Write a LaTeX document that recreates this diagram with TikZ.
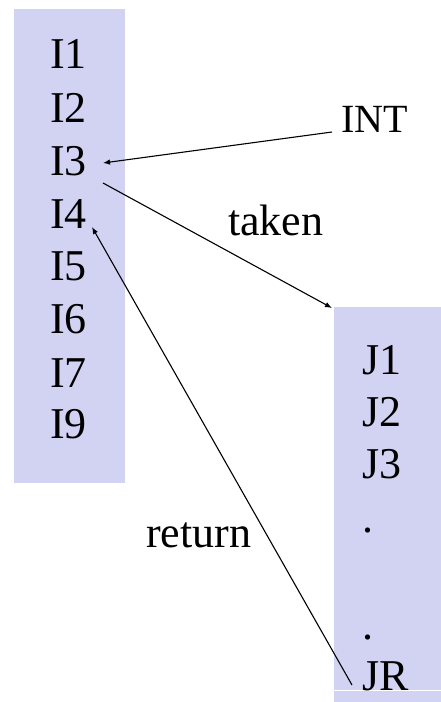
\documentclass[tikz,border=0pt]{standalone}
\usepackage{fontspec}
\setmainfont{Liberation Serif}
\usetikzlibrary{arrows.meta}
\definecolor{boxfill}{RGB}{210,210,242}
\begin{document}
\begin{tikzpicture}[x=1pt,y=-1pt,
  lbl/.style={anchor=base west,inner sep=0pt,font=\fontsize{44}{53}\selectfont},
  col/.style={fill=boxfill,draw=none},
  conn/.style={line width=1.1pt,-{Latex[length=7pt,width=5.5pt]}}]
\useasboundingbox (0,0) rectangle (441,702);
% boxes
\path[col] (14,9) rectangle (125,483);
\path[col] (334,307) rectangle (441,702);
\draw[white,line width=1pt] (334,690) -- (441,690);
% left column
\node[lbl] (i1) at (50,68) {I1};
\node[lbl] (i2) at (50,122) {I2};
\node[lbl] (i3) at (50,175) {I3};
\node[lbl] (i4) at (50,228) {I4};
\node[lbl] (i5) at (50,280) {I5};
\node[lbl] (i6) at (50,333) {I6};
\node[lbl] (i7) at (50,387) {I7};
\node[lbl] (i9) at (50,438) {I9};
% right column
\node[lbl] (j1) at (362,374) {J1};
\node[lbl] (j2) at (362,426) {J2};
\node[lbl] (j3) at (362,478) {J3};
\node[lbl] (d1) at (362,532) {.};
\node[lbl] (d2) at (362,639) {.};
\node[lbl] (jr) at (362,690) {JR};
% labels
\node[lbl,font=\fontsize{40}{48}\selectfont] (int) at (341,132) {INT};
\node[lbl] (taken) at (228,235) {taken};
\node[lbl] (ret) at (146,547) {return};
% connector endpoints
\coordinate (intS) at (332,132);
\coordinate (i3E) at (103,163);
\coordinate (i3S) at (103,183);
\coordinate (jTop) at (332,308);
\coordinate (jrS) at (352,685);
\coordinate (i4E) at (92,227);
\draw[conn] (intS) -- (i3E);
\draw[conn] (i3S) -- (jTop);
\draw[conn] (jrS) -- (i4E);
\end{tikzpicture}
\end{document}
